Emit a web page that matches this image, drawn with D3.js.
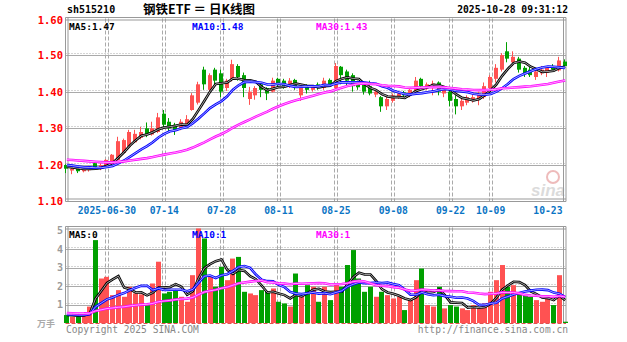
<!DOCTYPE html>
<html><head><meta charset="utf-8">
<script src="https://cdn.jsdelivr.net/npm/d3@7"></script>
<style>
body{margin:0;background:#fff}
svg{display:block}
text{font-family:"DejaVu Sans Mono",monospace;font-weight:bold}
</style>
</head><body>
<svg id="c" width="627" height="342"></svg>
<script>
// ---------- DATA ----------
const dates=["06-19","06-20","06-23","06-24","06-25","06-26","06-27","06-30",
"07-01","07-02","07-03","07-04","07-07","07-08","07-09","07-10","07-11","07-14","07-15","07-16","07-17","07-18","07-21","07-22","07-23","07-24","07-25","07-28","07-29","07-30","07-31",
"08-01","08-04","08-05","08-06","08-07","08-08","08-11","08-12","08-13","08-14","08-15","08-18","08-19","08-20","08-21","08-22","08-25","08-26","08-27","08-28","08-29",
"09-01","09-02","09-03","09-04","09-05","09-08","09-09","09-10","09-11","09-12","09-15","09-16","09-17","09-18","09-19","09-22","09-23","09-24","09-25","09-26","09-29","09-30",
"10-09","10-10","10-13","10-14","10-15","10-16","10-17","10-20","10-21","10-22","10-23","10-24","10-27","10-28"];
const open=[1.200,1.185,1.190,1.183,1.186,1.205,1.190,1.198,1.207,1.214,1.233,1.250,1.262,1.274,1.300,1.283,1.290,1.340,1.318,1.310,1.300,1.310,1.350,1.370,1.460,1.405,1.460,1.450,1.410,1.432,1.470,1.445,1.380,1.390,1.420,1.410,1.400,1.435,1.430,1.415,1.432,1.390,1.418,1.405,1.420,1.410,1.432,1.410,1.468,1.455,1.445,1.425,1.420,1.415,1.392,1.385,1.360,1.375,1.385,1.398,1.390,1.400,1.435,1.410,1.412,1.425,1.395,1.400,1.380,1.360,1.370,1.375,1.380,1.385,1.410,1.435,1.460,1.510,1.480,1.490,1.465,1.460,1.440,1.450,1.452,1.470,1.458,1.482];
const high=[1.202,1.195,1.192,1.195,1.198,1.208,1.205,1.216,1.230,1.277,1.272,1.296,1.296,1.304,1.316,1.318,1.342,1.350,1.328,1.315,1.325,1.336,1.396,1.427,1.468,1.450,1.465,1.460,1.435,1.487,1.475,1.452,1.413,1.415,1.425,1.412,1.438,1.438,1.435,1.437,1.435,1.420,1.420,1.418,1.425,1.438,1.436,1.478,1.470,1.460,1.450,1.430,1.425,1.430,1.408,1.388,1.388,1.395,1.400,1.402,1.410,1.440,1.438,1.425,1.430,1.428,1.410,1.402,1.390,1.385,1.390,1.392,1.400,1.425,1.445,1.475,1.505,1.535,1.510,1.495,1.470,1.470,1.462,1.470,1.470,1.475,1.495,1.488];
const low=[1.178,1.175,1.178,1.180,1.182,1.188,1.186,1.195,1.205,1.212,1.230,1.248,1.260,1.270,1.276,1.280,1.287,1.302,1.290,1.282,1.295,1.304,1.348,1.365,1.405,1.398,1.415,1.385,1.402,1.428,1.430,1.385,1.364,1.378,1.385,1.377,1.398,1.412,1.408,1.410,1.405,1.375,1.395,1.400,1.405,1.405,1.413,1.405,1.420,1.418,1.400,1.405,1.392,1.390,1.385,1.345,1.350,1.370,1.380,1.385,1.385,1.395,1.410,1.405,1.390,1.390,1.385,1.360,1.338,1.350,1.363,1.370,1.363,1.380,1.405,1.425,1.455,1.480,1.470,1.452,1.440,1.440,1.432,1.445,1.440,1.455,1.455,1.465];
const close=[1.190,1.190,1.183,1.190,1.194,1.192,1.200,1.214,1.228,1.265,1.268,1.290,1.285,1.290,1.282,1.300,1.330,1.310,1.300,1.295,1.318,1.325,1.390,1.420,1.420,1.445,1.430,1.400,1.430,1.475,1.440,1.410,1.400,1.410,1.405,1.395,1.430,1.422,1.415,1.430,1.412,1.415,1.405,1.415,1.410,1.430,1.420,1.470,1.445,1.430,1.415,1.412,1.400,1.395,1.400,1.360,1.380,1.390,1.395,1.390,1.405,1.430,1.415,1.420,1.422,1.400,1.405,1.375,1.360,1.375,1.385,1.385,1.395,1.415,1.440,1.465,1.500,1.490,1.495,1.460,1.450,1.445,1.455,1.460,1.465,1.460,1.485,1.470];
// volume in 万手
const volume=[0.43,0.34,0.34,0.52,0.89,4.49,2.41,2.50,1.51,1.78,1.42,1.96,1.60,1.55,0.97,2.14,3.32,1.60,1.69,1.78,1.42,1.15,2.59,5.12,4.58,2.50,1.96,3.04,2.32,3.49,3.58,1.69,1.60,1.51,1.78,1.69,1.87,1.15,1.06,0.89,2.68,1.42,2.05,1.96,1.15,1.96,1.24,2.14,1.96,3.14,3.95,2.41,1.69,1.96,1.42,1.69,1.51,1.33,1.42,0.70,1.24,2.32,2.95,0.97,0.89,1.96,0.79,0.97,0.89,0.79,0.70,0.97,0.79,1.06,1.69,2.32,3.14,1.96,2.05,1.60,1.51,1.42,1.24,1.15,1.42,0.97,2.59,0.07];
// sessions before the first visible day (feed the moving averages only)
const histClose=[1.215,1.220,1.228,1.232,1.225,1.230,1.235,1.228,1.222,1.226,1.220,1.218,1.224,1.220,1.215,1.222,1.218,1.212,1.215,1.210,1.208,1.205,1.210,1.200,1.202,1.198,1.195,1.200,1.193];
const histVolume=[0.60,0.70,0.50,0.55,0.80,0.60,0.50,0.45,0.60,0.70,0.50,0.55,0.60,0.50,0.65,0.55,0.50,0.60,0.45,0.50,0.55,0.60,0.50,0.45,0.50,0.40,0.45,0.50,0.40];
const priceTicks=[1.10,1.20,1.30,1.40,1.50,1.60];
const volTicks=[1,2,3,4,5];
const tickDates=["06-30","07-14","07-28","08-11","08-25","09-08","09-22","10-09","10-23"];
const tickLabels=["2025-06-30","07-14","07-28","08-11","08-25","09-08","09-22","10-09","10-23"];
const gridDates=["06-30","07-14","07-28","08-11","08-25","09-08","09-22","10-09"];
const maPeriods=[5,10,30];
const maColors=["#000000","#0000ff","#ff00ff"];
const priceLegend=["MA5:1.47","MA10:1.48","MA30:1.43"];
const volLegend=["MA5:0","MA10:1","MA30:1"];
const titleCode="sh515210", titleName="钢铁ETF ＝ 日K线图", stamp="2025-10-28 09:31:12";

// ---------- LAYOUT ----------
const svg=d3.select("#c");
const L=65.5,R=566,PT=18.5,PB=201.5,VT=227.5,VB=323;
const UP="#ff5252",DN="#00a000",GRID="#aaaaaa";
const x=d3.scaleBand().domain(dates).range([64,568]).paddingInner(0).paddingOuter(0);
const cx=d=>x(d)+x.bandwidth()/2;
const y=d3.scaleLinear().domain([1.10,1.60]).range([201.7,18.3]);
const yv=d3.scaleLinear().domain([0,5.2]).range([VB,227]);

function ma(vals,hist,n){
  const all=hist.concat(vals), off=hist.length;
  return vals.map((v,i)=>d3.mean(all.slice(off+i-n+1,off+i+1)));
}

// ---------- GRID ----------
const g=svg.append("g");
function hgrid(yy,x0,x1){
  g.append("line").attr("x1",x0).attr("x2",x1).attr("y1",Math.round(yy)+0.5).attr("y2",Math.round(yy)+0.5).attr("stroke",GRID);
  g.append("line").attr("x1",x0).attr("x2",x1).attr("y1",Math.round(yy)-1.5).attr("y2",Math.round(yy)-1.5).attr("stroke",GRID).attr("stroke-dasharray","1,2");
}
priceTicks.slice(1,5).forEach(v=>hgrid(y(v),L,R));
volTicks.slice(0,4).forEach(v=>hgrid(yv(v),L,R));
gridDates.forEach(d=>{
  const xx=Math.round(cx(d));
  [[PT,PB],[VT,VB]].forEach(([a,b])=>{
    [xx-1.5,xx+1.5].forEach(px=>g.append("line").attr("x1",px).attr("x2",px).attr("y1",a).attr("y2",b)
      .attr("stroke",GRID).attr("stroke-dasharray","4,2"));
  });
});
// frames (double lines)
function frame(t,b,bottom){
  [[0],[2.5]].forEach(([o])=>{
    g.append("line").attr("x1",L+o).attr("x2",L+o).attr("y1",t).attr("y2",b).attr("stroke","#999");
    g.append("line").attr("x1",R-o).attr("x2",R-o).attr("y1",t).attr("y2",b).attr("stroke","#999");
    g.append("line").attr("x1",L).attr("x2",R).attr("y1",t+o).attr("y2",t+o).attr("stroke","#999");
    if(bottom) g.append("line").attr("x1",L).attr("x2",R).attr("y1",b-o).attr("y2",b-o).attr("stroke","#999");
  });
}
frame(PT-1,PB,true);
frame(VT-1,VB,false);
g.append("line").attr("x1",L).attr("x2",R).attr("y1",VB+0.5).attr("y2",VB+0.5)
  .attr("stroke","#e05050").attr("stroke-dasharray","4,2");

// watermark
const wm=svg.append("g").attr("opacity",0.35);
wm.append("circle").attr("cx",553).attr("cy",177).attr("r",6).attr("fill","none").attr("stroke","#d04040").attr("stroke-width",2);
wm.append("text").attr("x",565).attr("y",196).attr("text-anchor","end").attr("font-size",17)
  .attr("font-style","italic").attr("fill","#999").style("font-family","Liberation Sans,Arial").text("sina");

// ---------- CANDLES ----------
const cg=svg.append("g");
dates.forEach((d,i)=>{
  const o=open[i],c=close[i],h=high[i],l=low[i];
  const col=c>=o?UP:DN;
  const x0=Math.floor(cx(d))-2;
  cg.append("line").attr("x1",x0+1.5).attr("x2",x0+1.5).attr("y1",y(h)).attr("y2",y(l)).attr("stroke",col);
  const top=y(Math.max(o,c)),bot=y(Math.min(o,c));
  cg.append("rect").attr("x",x0).attr("width",4).attr("y",top).attr("height",Math.max(1,bot-top)).attr("fill",col);
});
// volume bars
dates.forEach((d,i)=>{
  const col=close[i]>=open[i]?UP:DN;
  const x0=Math.floor(cx(d))-2;
  cg.append("rect").attr("x",x0).attr("width",5).attr("y",yv(volume[i])).attr("height",VB-yv(volume[i])).attr("fill",col);
});

// ---------- MOVING AVERAGES ----------
const lg=svg.append("g").attr("fill","none");
function drawMA(vals,hist,scale){
  maPeriods.forEach((n,k)=>{
    const m=ma(vals,hist,n);
    const line=d3.line().x((v,i)=>cx(dates[i])).y(v=>scale(v));
    lg.append("path").attr("d",line(m)).attr("stroke",maColors[k]).attr("stroke-width",2.6);
    lg.append("path").attr("d",line(m)).attr("stroke","#fff").attr("stroke-width",0.8).attr("opacity",0.8);
  });
}
drawMA(close,histClose,y);
drawMA(volume,histVolume,yv);

// ---------- TEXT ----------
const tg=svg.append("g");
function txt(s,xx,yy,col,size,anchor){
  return tg.append("text").attr("x",xx).attr("y",yy).attr("fill",col).attr("font-size",size)
    .attr("text-anchor",anchor||"start").text(s);
}
txt(titleCode,67,13,"#000",10);
txt(titleName,199,14,"#000",12.5,"middle").style("font-family","Noto Sans CJK SC").style("font-weight","bold");
txt(stamp,568,13,"#000",9.7,"end");
const legX=[69,192,316];
priceLegend.forEach((s,k)=>txt(s,legX[k],30,maColors[k],9.5).attr("stroke","#fff").attr("stroke-width",0).attr("paint-order","stroke"));
volLegend.forEach((s,k)=>txt(s,legX[k],238,maColors[k],9.5));
priceTicks.forEach(v=>{
  const yy=Math.min(Math.max(y(v),20),201);
  txt(v.toFixed(2),63,yy+4,"#ff0000",10.5,"end");
});
volTicks.forEach(v=>txt(String(v),63,Math.max(yv(v),229)+3.5,"#999",10,"end"));
tickDates.forEach((d,k)=>txt(tickLabels[k],cx(d),214,"#0a74c4",9.7,"middle"));
txt("万手",37,327,"#aaa",9).style("font-family","Noto Sans CJK SC");
txt("Copyright 2025 SINA.COM",66,333,"#888",9.6).style("font-weight","normal");
txt("http://finance.sina.com.cn",568,333,"#888",9.6,"end").style("font-weight","normal");
</script>
</body></html>
